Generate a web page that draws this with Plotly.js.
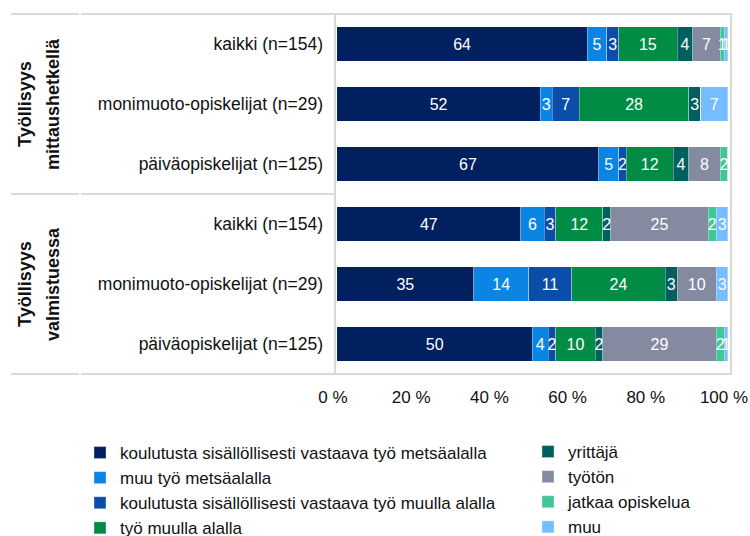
<!DOCTYPE html>
<html>
<head>
<meta charset="utf-8">
<script src="https://cdn.plot.ly/plotly-3.0.1.min.js"></script>
<style>html,body{margin:0;padding:0;background:#fff;}#chart{width:750px;height:536px;}</style>
</head>
<body>
<div id="chart"></div>
<script>
// Row keys (top to bottom) and their displayed labels
const rowKeys = [
  "mittaus|kaikki", "mittaus|monimuoto", "mittaus|paiva",
  "valmis|kaikki", "valmis|monimuoto", "valmis|paiva"
];
const rowLabels = [
  "kaikki (n=154)", "monimuoto-opiskelijat (n=29)", "päiväopiskelijat (n=125)",
  "kaikki (n=154)", "monimuoto-opiskelijat (n=29)", "päiväopiskelijat (n=125)"
];
const groupLine1 = ["Työllisyys", "Työllisyys"];
const groupLine2 = ["mittaushetkellä", "valmistuessa"];

const seriesNames = [
  "koulutusta sisällöllisesti vastaava työ metsäalalla",
  "muu työ metsäalalla",
  "koulutusta sisällöllisesti vastaava työ muulla alalla",
  "työ muulla alalla",
  "yrittäjä",
  "työtön",
  "jatkaa opiskelua",
  "muu"
];
const vastaavaMetsa   = [64, 52, 67, 47, 35, 50];
const muuMetsa        = [5, 3, 5, 6, 14, 4];
const vastaavaMuulla  = [3, 7, 2, 3, 11, 2];
const tyoMuulla       = [15, 28, 12, 12, 24, 10];
const yrittaja        = [4, 3, 4, 2, 3, 2];
const tyoton          = [7, 0, 8, 25, 10, 29];
const jatkaa          = [1, 0, 2, 2, 0, 2];
const muu             = [1, 7, 0, 3, 3, 1];
const seriesValues = [vastaavaMetsa, muuMetsa, vastaavaMuulla, tyoMuulla, yrittaja, tyoton, jatkaa, muu];
const seriesColors = ["#002060", "#0A85E4", "#0A4EAA", "#008C45", "#006060", "#848AA0", "#41C695", "#76BDFF"];

const xTickVals = [0, 20, 40, 60, 80, 100];
const xTickText = ["0 %", "20 %", "40 %", "60 %", "80 %", "100 %"];

const FONT = "'Liberation Sans', Arial, sans-serif";

const traces = seriesValues.map((vals, i) => ({
  type: "bar",
  orientation: "h",
  name: seriesNames[i],
  x: vals,
  y: rowKeys,
  text: vals.map(v => v > 0 ? String(v) : ""),
  texttemplate: "%{text}",
  textposition: "inside",
  insidetextanchor: "middle",
  constraintext: "none",
  textangle: 0,
  textfont: {color: "#ffffff", size: 16, family: FONT},
  marker: {color: seriesColors[i], line: {width: 0.6, color: "rgba(255,255,255,0.55)"}},
  hoverinfo: "skip",
  legend: i < 4 ? "legend" : "legend2",
  cliponaxis: false
}));

const lineStyle = {color: "#d9d9d9", width: 2};
const tableLeft = (11 - 335) / 396;
const tableBreak = (79 - 335) / 396;
const tableBreak2 = (81 - 335) / 396;
const shapes = [
  {type: "rect", xref: "paper", yref: "paper", x0: 0, x1: 1, y0: 0, y1: 1, line: lineStyle, layer: "below"}
];
[1, 0.5, 0].forEach(yy => {
  shapes.push({type: "line", xref: "paper", yref: "paper", x0: tableLeft, x1: tableBreak, y0: yy, y1: yy, line: lineStyle});
  shapes.push({type: "line", xref: "paper", yref: "paper", x0: tableBreak2, x1: 0, y0: yy, y1: yy, line: lineStyle});
});

const annotations = [];
[0, 1].forEach(i => {
  const yc = i === 0 ? 0.75 : 0.25;
  annotations.push({
    text: "<b>" + groupLine1[i] + "</b>", xref: "paper", yref: "paper",
    x: (25 - 335) / 396, y: yc, xanchor: "center", yanchor: "middle",
    textangle: -90, showarrow: false, font: {family: FONT, size: 18, color: "#111"}
  });
  annotations.push({
    text: "<b>" + groupLine2[i] + "</b>", xref: "paper", yref: "paper",
    x: (53 - 335) / 396, y: yc, xanchor: "center", yanchor: "middle",
    textangle: -90, showarrow: false, font: {family: FONT, size: 18, color: "#111"}
  });
});

const legendCommon = {
  orientation: "v",
  font: {family: FONT, size: 17, color: "#111"},
  bgcolor: "rgba(0,0,0,0)",
  borderwidth: 0,
  xanchor: "left", yanchor: "top",
  traceorder: "normal",
  itemclick: false, itemdoubleclick: false
};

const layout = {
  width: 750, height: 536,
  margin: {l: 335, r: 19, t: 14, b: 162, autoexpand: false},
  paper_bgcolor: "#fff", plot_bgcolor: "#fff",
  barmode: "stack",
  bargap: 0.433,
  font: {family: FONT, size: 17, color: "#111"},
  xaxis: {
    range: [-0.51, 100.77],
    tickvals: xTickVals, ticktext: xTickText,
    showgrid: false, zeroline: false, showline: false,
    ticks: "", ticklabelstandoff: 11, ticklabelshift: -4,
    ticklabeloverflow: "allow",
    tickfont: {family: FONT, size: 17, color: "#111"},
    fixedrange: true
  },
  yaxis: {
    type: "category",
    categoryorder: "array", categoryarray: rowKeys,
    tickvals: rowKeys, ticktext: rowLabels,
    autorange: "reversed",
    showgrid: false, zeroline: false, showline: false,
    ticks: "", ticklabelstandoff: 11,
    tickfont: {family: FONT, size: 17.5, color: "#111"},
    fixedrange: true
  },
  legend: Object.assign({}, legendCommon, {x: (80 - 335) / 396, y: (374 - 435) / 360}),
  legend2: Object.assign({}, legendCommon, {x: (528 - 335) / 396, y: (374 - 434) / 360}),
  shapes: shapes,
  annotations: annotations
};

Plotly.newPlot("chart", traces, layout, {displayModeBar: false, staticPlot: true});
</script>
</body>
</html>
